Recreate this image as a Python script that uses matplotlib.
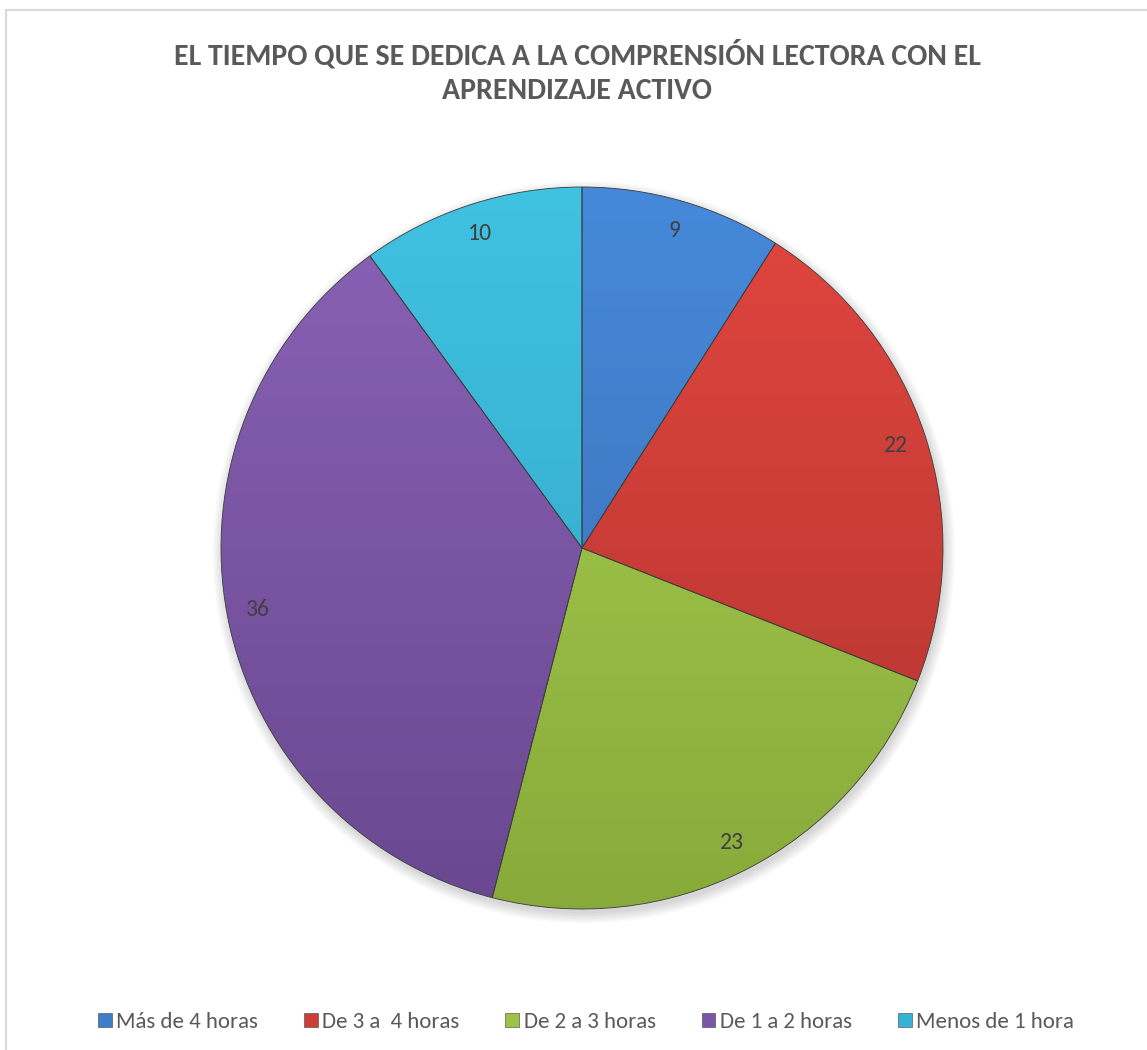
import numpy as np
import matplotlib
matplotlib.use("Agg")
import matplotlib.pyplot as plt
from matplotlib.colors import to_rgb
from matplotlib.patches import Rectangle

# chart data
categories = ["Más de 4 horas", "De 3 a  4 horas", "De 2 a 3 horas",
              "De 1 a 2 horas", "Menos de 1 hora"]
values = [9, 22, 23, 36, 10]
title = "EL TIEMPO QUE SE DEDICA A LA COMPRENSIÓN LECTORA CON EL\nAPRENDIZAJE ACTIVO"

# light (top) / dark (bottom) shade for each slice
light = ["#4689DA", "#E2463F", "#AAD253", "#8A62B6", "#40C2E2"]
dark = ["#3A6DB0", "#B1332F", "#88AA3A", "#6A4890", "#31A2C2"]
base = ["#3F7DCB", "#CC3E38", "#9CC248", "#7B56A6", "#38B2D4"]

plt.rcParams["font.family"] = ["Carlito", "Lato", "DejaVu Sans"]

W, H = 1147, 1050
fig = plt.figure(figsize=(W / 100, H / 100), dpi=100)

# chart area border
fig.patches.append(Rectangle((6 / W, -0.1), 1.2, 1 - 10 / H + 0.1,
                             transform=fig.transFigure, fill=False,
                             edgecolor="#D9D9D9", linewidth=1.5))

cx, cy, R = 582, 548, 361
ax = fig.add_axes([(cx - R) / W, (H - cy - R) / H, 2 * R / W, 2 * R / H])

# soft shadow under the pie
for k in range(8):
    sh = plt.Circle((0.005, -0.012), 1.0 + 0.004 * k,
                    color="black", alpha=0.018, zorder=0, lw=0)
    sh.set_clip_on(False)
    ax.add_patch(sh)

wedges, texts = ax.pie(values, startangle=90, counterclock=False, radius=1,
                       colors=base, labels=[str(v) for v in values],
                       labeldistance=0.915,
                       wedgeprops=dict(edgecolor="#3B3B3B", linewidth=0.6),
                       textprops=dict(fontsize=17, color="#404040"))

# vertical shading inside each slice
yy = np.linspace(1, -1, 400)[:, None] * np.ones((1, 400))
t = (1 - yy) / 2
for w, lc, dc in zip(wedges, light, dark):
    lc, dc = np.array(to_rgb(lc)), np.array(to_rgb(dc))
    img = lc[None, None, :] * (1 - t[..., None]) + dc[None, None, :] * t[..., None]
    im = ax.imshow(img, extent=(-1, 1, -1, 1), zorder=w.get_zorder() + 0.1,
                   interpolation="bilinear")
    im.set_clip_path(w)
    w.set_facecolor("none")
    w.set_zorder(w.get_zorder() + 0.2)
    w.set_clip_on(False)

for tx in texts:
    tx.set_ha("center")
    tx.set_va("center")
    tx.set_zorder(5)

ax.set_xlim(-1, 1)
ax.set_ylim(-1, 1)
ax.set_aspect("auto")
ax.axis("off")

fig.text(577 / W, 1 - 72 / H, title, ha="center", va="center",
         fontsize=21.5, fontweight="bold", color="#595959", linespacing=1.4)

leg = fig.legend(wedges, categories, loc="center", bbox_to_anchor=(586 / W, 1 - 1022 / H),
                 ncol=5, frameon=False, fontsize=16.5, handlelength=0.6,
                 handleheight=0.6, handletextpad=0.2, columnspacing=2.0,
                 labelcolor="#595959")
for h, c in zip(leg.legend_handles, base):
    h.set_facecolor(c)
    h.set_edgecolor("#404040")
    h.set_linewidth(0.4)

fig.savefig("out.png", dpi=100)
